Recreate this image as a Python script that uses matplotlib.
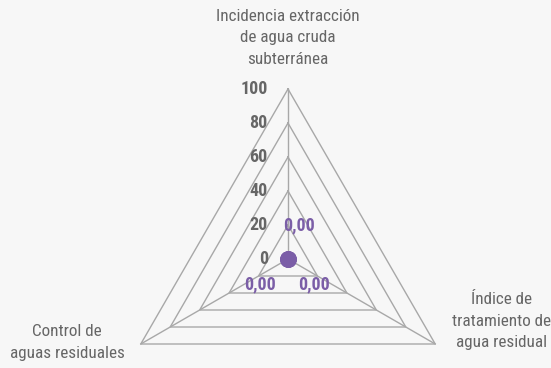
import matplotlib
matplotlib.use("Agg")
import matplotlib.pyplot as plt
import numpy as np
from matplotlib import font_manager

categories = ["Incidencia extracción\nde agua cruda\nsubterránea",
              "Control de\naguas residuales",
              "Índice de\ntratamiento de\nagua residual"]
values = [0.0, 0.0, 0.0]
value_labels = ["0,00", "0,00", "0,00"]
ticks = [0, 20, 40, 60, 80, 100]
tick_labels = ["0", "20", "40", "60", "80", "100"]

names = {f.name for f in font_manager.fontManager.ttflist}
fam = [n for n in ["Liberation Sans Narrow", "Roboto Condensed", "Roboto", "DejaVu Sans"] if n in names]

W, H = 551, 368
fig = plt.figure(figsize=(W / 100, H / 100), dpi=100)
bg = "#f7f7f7"
fig.patch.set_facecolor(bg)
ax = fig.add_axes([0, 0, 1, 1])
ax.set_facecolor(bg)
ax.axis("off")

scale = 1.7  # px per unit
cx, cy = 288, 259
ax.set_xlim(-cx / scale, (W - cx) / scale)
ax.set_ylim(-(H - cy) / scale, cy / scale)

angles = np.deg2rad([90, 210, 330])
rmax = ticks[-1]
grid_col = "#a8a8a8"

for t in ticks[1:]:
    xs = list(t * np.cos(angles)) + [t * np.cos(angles[0])]
    ys = list(t * np.sin(angles)) + [t * np.sin(angles[0])]
    ax.plot(xs, ys, color=grid_col, lw=1.0, zorder=1)
for a in angles:
    ax.plot([0, rmax * np.cos(a)], [0, rmax * np.sin(a)], color=grid_col, lw=1.0, zorder=1)

for t, lab in zip(ticks, tick_labels):
    ax.annotate(lab, (0, t), xytext=(-14.5, 0), textcoords="offset points",
                ha="right", va="center", fontsize=13, fontweight="bold",
                color="#666666", family=fam)

purple = "#7b5ea7"
px = values * np.cos(angles)
py = values * np.sin(angles)
ax.plot(px, py, "o", color=purple, ms=11, zorder=5)
offsets = [(8, 24.5), (-20, -18), (19, -18)]
for x, y, lab, off in zip(px, py, value_labels, offsets):
    ax.annotate(lab, (x, y), xytext=off, textcoords="offset points",
                ha="center", va="center", fontsize=13, fontweight="bold",
                color=purple, family=fam)

lab_kw = dict(textcoords="offset points", ha="center", va="center",
              fontsize=12.3, color="#666666", family=fam, linespacing=1.55)
ax.annotate(categories[0], (0, rmax), xytext=(0, 37), **lab_kw)
ax.annotate(categories[1], (rmax * np.cos(angles[1]), rmax * np.sin(angles[1])),
            xytext=(-53, 1), **lab_kw)
ax.annotate(categories[2], (rmax * np.cos(angles[2]), rmax * np.sin(angles[2])),
            xytext=(47.5, 16.5), **lab_kw)

fig.savefig("out.png", dpi=100, facecolor=bg)
